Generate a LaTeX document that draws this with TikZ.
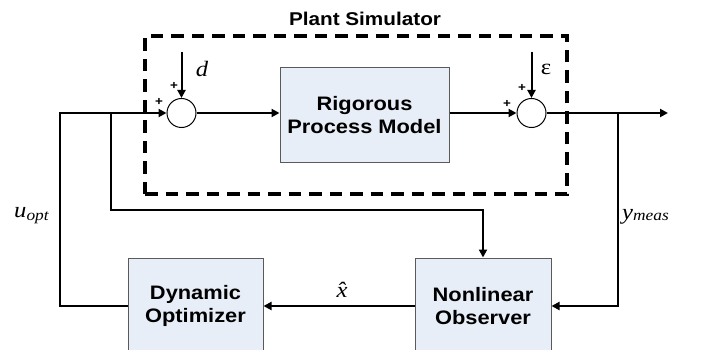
\documentclass[tikz,border=0pt]{standalone}
\usepackage{fontspec}
\usetikzlibrary{arrows.meta}
\newfontfamily\bxfont[FakeStretch=1.12]{Liberation Sans}
\newfontfamily\srfont[FakeStretch=1.12]{Liberation Serif}
\definecolor{boxfill}{HTML}{E8EEF7}
\definecolor{boxline}{HTML}{5A5A5A}
\tikzset{
  blk/.style={draw=boxline, line width=1pt, fill=boxfill, align=center,
    font=\bxfont\bfseries\fontsize{19.5}{23}\selectfont, inner sep=0pt},
  sumc/.style={circle, draw=black, line width=1pt, fill=white, minimum size=29pt, inner sep=0pt},
  plantbox/.style={draw=black, line width=3.8pt, dash pattern=on 12.5pt off 8pt, inner sep=0pt},
  wire/.style={line width=2pt, draw=black},
  arr/.style={wire, -{Triangle[length=8pt,width=8pt]}},
  plus/.style={font=\bxfont\bfseries\fontsize{12}{12}\selectfont, inner sep=0pt},
  mlab/.style={font=\srfont\itshape\fontsize{22}{22}\selectfont, inner sep=0pt},
}
\begin{document}
\begin{tikzpicture}[x=1pt,y=-1pt]
\useasboundingbox (0,0) rectangle (707,350);
\clip (0,0) rectangle (707,350);
% plant simulator frame
\node[plantbox, minimum width=422pt, minimum height=158pt] (plant) at (356,115) {};
\node[font=\bxfont\bfseries\fontsize{18.5}{18.5}\selectfont, inner sep=0pt] (ttl) at (365,19) {Plant Simulator};
% blocks
\node[blk, minimum width=169pt, minimum height=95pt] (rpm) at (364.5,115.5) {Rigorous\\Process Model};
\node[blk, minimum width=135pt, minimum height=96pt] (dyn) at (195.5,306) {Dynamic\\Optimizer};
\node[blk, minimum width=136pt, minimum height=96pt] (obs) at (483,306) {Nonlinear\\Observer};
% summing junctions
\node[sumc] (s1) at (181.5,113) {};
\node[sumc] (s2) at (531.5,113) {};
% helper coordinates
\coordinate (c1) at (60,113);
\coordinate (c2) at (111,113);
\coordinate (c4) at (483,210);
\coordinate (c3) at (618,113);
\coordinate (out) at (668,113);
\coordinate (dtop) at (181.5,52);
\coordinate (etop) at (531.5,52);
% connectors
\draw[arr] (dyn.west) -| (c1) -- (s1.west);
\draw[arr] (c2) |- (c4) -- (obs.north);
\draw[arr] (s1.east) -- (s1.east -| rpm.west);
\draw[arr] (rpm.east |- s2.west) -- (s2.west);
\draw[arr] (s2.east) -- (out);
\draw[arr] (c3) |- (obs.east);
\draw[arr] (obs.west) -- (dyn.east);
\draw[arr] (dtop) -- (s1.north);
\draw[arr] (etop) -- (s2.north);
% signs
\node[plus] (p1) at (174,86) {+};
\node[plus] (p2) at (159,102) {+};
\node[plus] (p3) at (522,88) {+};
\node[plus] (p4) at (507,104) {+};
% labels
\node[mlab] (ld) at (202,69) {d};
\node[font=\srfont\fontsize{22}{22}\selectfont, inner sep=0pt] (le) at (546,69) {ε};
\node[mlab, anchor=base west] (lu) at (14,217) {u{\fontsize{15.5}{15.5}\selectfont\raisebox{-3pt}{opt}}};
\node[mlab, anchor=base west] (ly) at (622,219) {y{\fontsize{15.5}{15.5}\selectfont\raisebox{-1pt}{meas}}};
\node[mlab, anchor=base] (lx) at (342,297) {x̂};
\end{tikzpicture}
\end{document}
